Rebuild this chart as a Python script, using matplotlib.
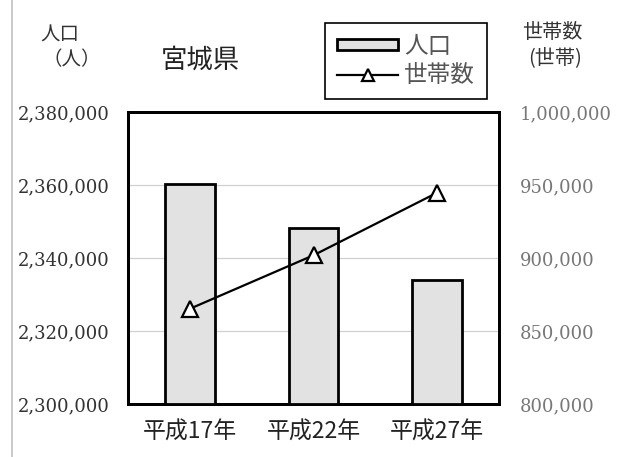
import matplotlib
matplotlib.use("Agg")
import matplotlib.pyplot as plt
from matplotlib.lines import Line2D
from matplotlib.patches import Patch
from matplotlib.ticker import FuncFormatter

# 宮城県の人口と世帯数
anos = ["平成17年", "平成22年", "平成27年"]
populacao = [2360218, 2348165, 2333899]
domicilios = [865200, 901862, 944720]

pop_ticks = [2300000, 2320000, 2340000, 2360000, 2380000]
dom_ticks = [800000, 850000, 900000, 950000, 1000000]

cjk = ["Noto Sans CJK JP", "DejaVu Sans"]
num = ["DejaVu Serif"]

fig = plt.figure(figsize=(6.23, 4.57), dpi=100)
ax = fig.add_axes([0.2055, 0.116, 0.5955, 0.639])
ax2 = ax.twinx()

x = range(len(anos))

# barras do 人口
ax.bar(x, populacao, width=0.4, color="#e2e2e2", edgecolor="black", lw=2, zorder=3)
ax.set_ylim(2300000, 2380000)
ax.set_xlim(-0.5, 2.5)
ax.set_yticks(pop_ticks)
ax.yaxis.set_major_formatter(FuncFormatter(lambda v, p: f"{int(v):,}"))
ax.grid(axis="y", color="#d0d0d0", lw=0.9, zorder=0)
ax.set_axisbelow(True)

# linha do 世帯数
ax2.plot(x, domicilios, color="black", lw=1.6, marker="^", markersize=11,
         markerfacecolor="white", markeredgecolor="black", markeredgewidth=1.6, zorder=5)
ax2.set_ylim(800000, 1000000)
ax2.set_yticks(dom_ticks)
ax2.yaxis.set_major_formatter(FuncFormatter(lambda v, p: f"{int(v):,}"))

ax.set_xticks(list(x))
ax.set_xticklabels(anos, family=cjk, fontsize=16.5, color="#222")
ax.tick_params(axis="x", length=0, pad=12)
ax.tick_params(axis="y", length=0, pad=13)
ax2.tick_params(axis="y", length=0, pad=15)
for t in ax.get_yticklabels():
    t.set_family(num)
    t.set_fontsize(13)
    t.set_color("#333")
for t in ax2.get_yticklabels():
    t.set_family(num)
    t.set_fontsize(13)
    t.set_color("#777")

for a in (ax, ax2):
    for s in a.spines.values():
        s.set_linewidth(2)
        s.set_color("black")

# textos
fig.text(60 / 623, 1 - 35 / 457, "人口", family=cjk, fontsize=14, ha="center", va="center", color="#333")
fig.text(72 / 623, 1 - 60 / 457, "（人）", family=cjk, fontsize=14, ha="center", va="center", color="#333")
fig.text(200 / 623, 1 - 60 / 457, "宮城県", family=cjk, fontsize=19, ha="center", va="center", color="#222")
fig.text(552 / 623, 1 - 33 / 457, "世帯数", family=cjk, fontsize=14.5, ha="center", va="center", color="#333")
fig.text(555 / 623, 1 - 58 / 457, "(世帯)", family=cjk, fontsize=14.5, ha="center", va="center", color="#333")

# legenda
handles = [
    Patch(facecolor="#e2e2e2", edgecolor="black", lw=2),
    Line2D([], [], color="black", lw=1.6, marker="^", markersize=9,
           markerfacecolor="white", markeredgecolor="black", markeredgewidth=1.6),
]
leg = fig.legend(handles, ["人口", "世帯数"], loc="upper left",
                 bbox_to_anchor=(325 / 623, 1 - 23 / 457), fancybox=False,
                 edgecolor="black", framealpha=1, prop={"family": cjk, "size": 17},
                 handlelength=2.6, handleheight=0.35, borderpad=0.5, labelspacing=0.25,
                 handletextpad=0.25, borderaxespad=0)
leg.get_frame().set_linewidth(1.2)
for t in leg.get_texts():
    t.set_color("#555")

# borda cinza à esquerda
fig.add_artist(Line2D([12 / 623, 12 / 623], [0, 1], color="#c0c0c0", lw=1.2))

fig.savefig("out.png", dpi=100)
